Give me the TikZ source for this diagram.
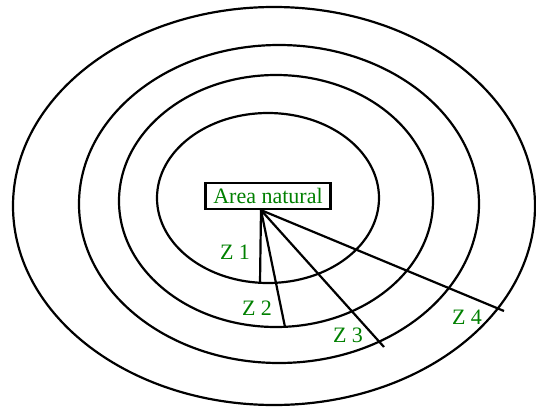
\documentclass[tikz,border=0pt]{standalone}
\usepackage{fontspec}
\setmainfont{Liberation Serif}
\usepackage{xcolor}
\usetikzlibrary{calc,positioning}
\definecolor{zG}{RGB}{0,128,0}

\begin{document}
\begin{tikzpicture}[x=1pt, y=-1pt,
    ring/.style={draw=black, line width=2.2pt},
    spoke/.style={draw=black, line width=2.2pt},
    zlab/.style={text=zG, font=\fontsize{22}{22}\selectfont, inner sep=0pt}]
    \useasboundingbox (0,0) rectangle (536,407);

    % zones
    \draw[ring] (274,206) ellipse [x radius=261, y radius=199];
    \draw[ring] (279,204) ellipse [x radius=200, y radius=159];
    \draw[ring] (276,201) ellipse [x radius=157, y radius=126];
    \draw[ring] (268,198) ellipse [x radius=111, y radius=85];

    \node[draw, line width=2.2pt, fill=white, text=zG, font=\fontsize{22}{22}\selectfont,
          minimum width=125pt, minimum height=26pt, inner sep=2pt] (nat) at (268,196) {Area natural};

    \coordinate (hub) at ([xshift=-7pt]nat.south);
    \coordinate (z1) at (260,283);
    \coordinate (z2) at (285,327);
    \coordinate (z3) at (384,347);
    \coordinate (z4) at (504,311);

    \draw[spoke] (hub) -- (z1);
    \draw[spoke] (hub) -- (z2);
    \draw[spoke] (hub) -- (z3);
    \draw[spoke] (hub) -- (z4);

    \node[zlab] (lz1) at (235,252) {Z 1};
    \node[zlab] (lz2) at (257,308) {Z 2};
    \node[zlab] (lz3) at (348,335) {Z 3};
    \node[zlab] (lz4) at (467,317) {Z 4};
\end{tikzpicture}
\end{document}
